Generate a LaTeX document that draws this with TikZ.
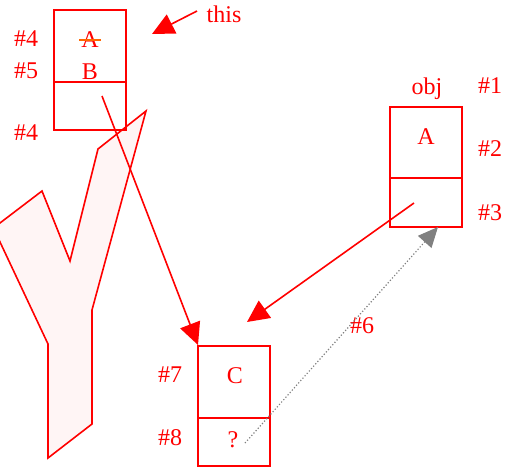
\documentclass[tikz,border=0pt]{standalone}
\usepackage{fontspec}
\setmainfont{Liberation Serif}
\usetikzlibrary{arrows.meta}
\begin{document}
\begin{tikzpicture}[x=1pt,y=-1pt,
  txt/.style={text=red,font=\fontsize{24}{28}\selectfont,inner sep=0pt},
  cell/.style={draw=red,line width=1.6pt},
  redarrow/.style={draw=red,line width=1.6pt,-{Triangle[length=22pt,width=21pt]}},
  grayarrow/.style={draw=gray,line width=1.2pt,dotted,-{Triangle[length=20pt,width=18pt,fill=gray]}}]
\useasboundingbox (0,0) rectangle (507,469);
\begin{scope}
\clip (0,0) rectangle (507,469);
\draw[draw=red,line width=1.6pt,fill=red!4] (146,111) -- (98,149) -- (70,261) -- (42,191) -- (-6.6,228) -- (48,344) -- (48,458) -- (92,424) -- (92,310) -- cycle;
\end{scope}
% this box
\draw[cell] (54,10) rectangle (126,130);
\draw[cell] (54,82) -- (126,82);
\node[txt] (tA) at (90,40) {A};
\draw[draw=orange!80!red,line width=1.6pt] ([xshift=-2pt]tA.west) -- ([xshift=2pt]tA.east);
\node[txt] (tB) at (90,72) {B};
\node[txt] (l4a) at (26,39) {\#4};
\node[txt] (l5) at (26,71) {\#5};
\node[txt] (l4b) at (26,133) {\#4};
\node[txt] (this) at (224,14) {this};
\coordinate (thisS) at (197,11);
\coordinate (thisE) at (152,34);
\draw[redarrow] (thisS) -- (thisE);
% obj box
\draw[cell] (390,107) rectangle (462,227);
\draw[cell] (390,178) -- (462,178);
\node[txt] (obj) at (427,89) {obj};
\node[txt] (oA) at (426,137) {A};
\node[txt] (l1) at (490,86) {\#1};
\node[txt] (l2) at (490,149) {\#2};
\node[txt] (l3) at (490,213) {\#3};
% C box
\draw[cell] (198,346) rectangle (270,466);
\draw[cell] (198,418) -- (270,418);
\node[txt] (cC) at (235,376) {C};
\node[txt] (cQ) at (233,440) {?};
\node[txt] (l7) at (170,375) {\#7};
\node[txt] (l8) at (170,438) {\#8};
\node[txt] (l6) at (362,326) {\#6};
% connectors
\coordinate (bS) at (102,96);
\coordinate (cTL) at (198,345);
\draw[redarrow] (bS) -- (cTL);
\coordinate (oS) at (414,203);
\coordinate (cT) at (247,322);
\draw[redarrow] (oS) -- (cT);
\coordinate (qS) at (245,443);
\coordinate (oB) at (438,227);
\draw[grayarrow] (qS) -- (oB);
\end{tikzpicture}
\end{document}
